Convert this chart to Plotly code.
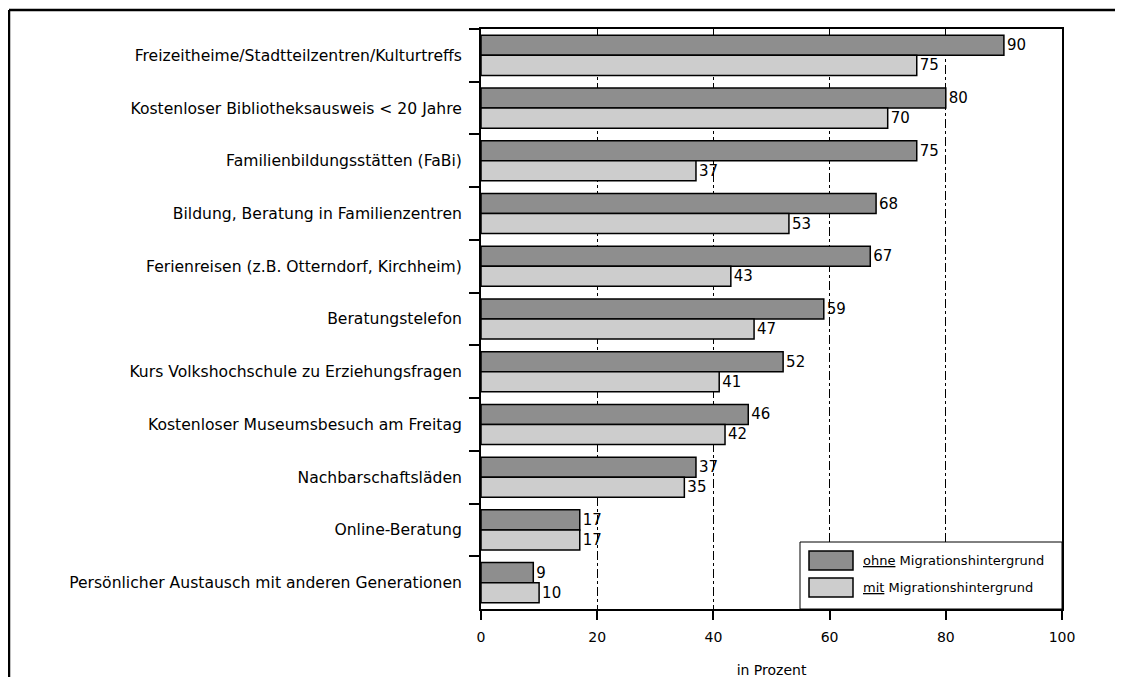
import plotly.graph_objects as go

categories = [
    "Freizeitheime/Stadtteilzentren/Kulturtreffs",
    "Kostenloser Bibliotheksausweis < 20 Jahre",
    "Familienbildungsstätten (FaBi)",
    "Bildung, Beratung in Familienzentren",
    "Ferienreisen (z.B. Otterndorf, Kirchheim)",
    "Beratungstelefon",
    "Kurs Volkshochschule zu Erziehungsfragen",
    "Kostenloser Museumsbesuch am Freitag",
    "Nachbarschaftsläden",
    "Online-Beratung",
    "Persönlicher Austausch mit anderen Generationen",
]
ohne_values = [90, 80, 75, 68, 67, 59, 52, 46, 37, 17, 9]
mit_values = [75, 70, 37, 53, 43, 47, 41, 42, 35, 17, 10]
series_names = ["ohne Migrationshintergrund", "mit Migrationshintergrund"]
x_ticks = [0, 20, 40, 60, 80, 100]

FONT = "DejaVu Sans"
DARK = "#8e8e8e"
LIGHT = "#cdcdcd"

fig = go.Figure()
for name, vals, col in [(series_names[0], ohne_values, DARK), (series_names[1], mit_values, LIGHT)]:
    fig.add_trace(go.Bar(
        y=categories, x=vals, orientation="h", name=name,
        marker=dict(color=col, line=dict(color="black", width=1.5)),
        text=vals, texttemplate="%{x}", textposition="outside",
        textfont=dict(family=FONT, size=15, color="black"),
        cliponaxis=False, showlegend=False,
    ))

W, H = 1123, 677
OFF = 8  # page body offset
ml, mr, mt, mb = 473, 69, 21, 76
pw, ph = W - ml - mr, H - mt - mb

def px(x):
    return (x - OFF - ml) / pw

def py(y):
    return (H - mb - (y - OFF)) / ph

shapes = []
# outer frame (left and top)
shapes.append(dict(type="line", xref="paper", yref="paper", x0=px(9), x1=px(9), y0=py(700), y1=py(10),
                   line=dict(color="black", width=2.5)))
shapes.append(dict(type="line", xref="paper", yref="paper", x0=px(9), x1=px(1140), y0=py(10), y1=py(10),
                   line=dict(color="black", width=2.5)))
# legend box
shapes.append(dict(type="rect", xref="paper", yref="paper", x0=px(800), x1=1, y0=0, y1=py(542),
                   line=dict(color="black", width=1), fillcolor="white", layer="above"))
shapes.append(dict(type="rect", xref="paper", yref="paper", x0=px(809), x1=px(853), y0=py(570), y1=py(551),
                   line=dict(color="black", width=1.5), fillcolor=DARK, layer="above"))
shapes.append(dict(type="rect", xref="paper", yref="paper", x0=px(809), x1=px(853), y0=py(597), y1=py(578),
                   line=dict(color="black", width=1.5), fillcolor=LIGHT, layer="above"))

annotations = [
    dict(xref="paper", yref="paper", x=px(861), y=py(560.5), xanchor="left", yanchor="middle",
         text='<span style="text-decoration:underline">ohne</span> Migrationshintergrund',
         showarrow=False, font=dict(family=FONT, size=13, color="black")),
    dict(xref="paper", yref="paper", x=px(861), y=py(587.5), xanchor="left", yanchor="middle",
         text='<span style="text-decoration:underline">mit</span> Migrationshintergrund',
         showarrow=False, font=dict(family=FONT, size=13, color="black")),
]

fig.update_layout(
    width=W, height=H,
    margin=dict(l=ml, r=mr, t=mt, b=mb, autoexpand=False),
    paper_bgcolor="white", plot_bgcolor="white",
    barmode="group", bargap=0.24, bargroupgap=0,
    font=dict(family=FONT, size=14, color="black"),
    shapes=shapes, annotations=annotations,
    xaxis=dict(
        range=[0, 100], tickvals=x_ticks, ticks="outside", ticklen=9, tickwidth=1.5, tickcolor="black",
        showline=True, linecolor="black", linewidth=2, mirror=True,
        showgrid=True, gridcolor="black", gridwidth=1, griddash="dashdot",
        zeroline=False, tickfont=dict(family=FONT, size=14), automargin=False, ticklabelstandoff=5,
        title=dict(text="in Prozent", font=dict(family=FONT, size=14), standoff=21),
    ),
    yaxis=dict(
        autorange="reversed", type="category", tickson="boundaries",
        ticks="outside", ticklen=10, tickwidth=1.5, tickcolor="black",
        showline=True, linecolor="black", linewidth=2, mirror=True, automargin=False,
        showgrid=False, tickfont=dict(family=FONT, size=15.6), ticklabelstandoff=14,
    ),
)

fig.write_html("out.html")
